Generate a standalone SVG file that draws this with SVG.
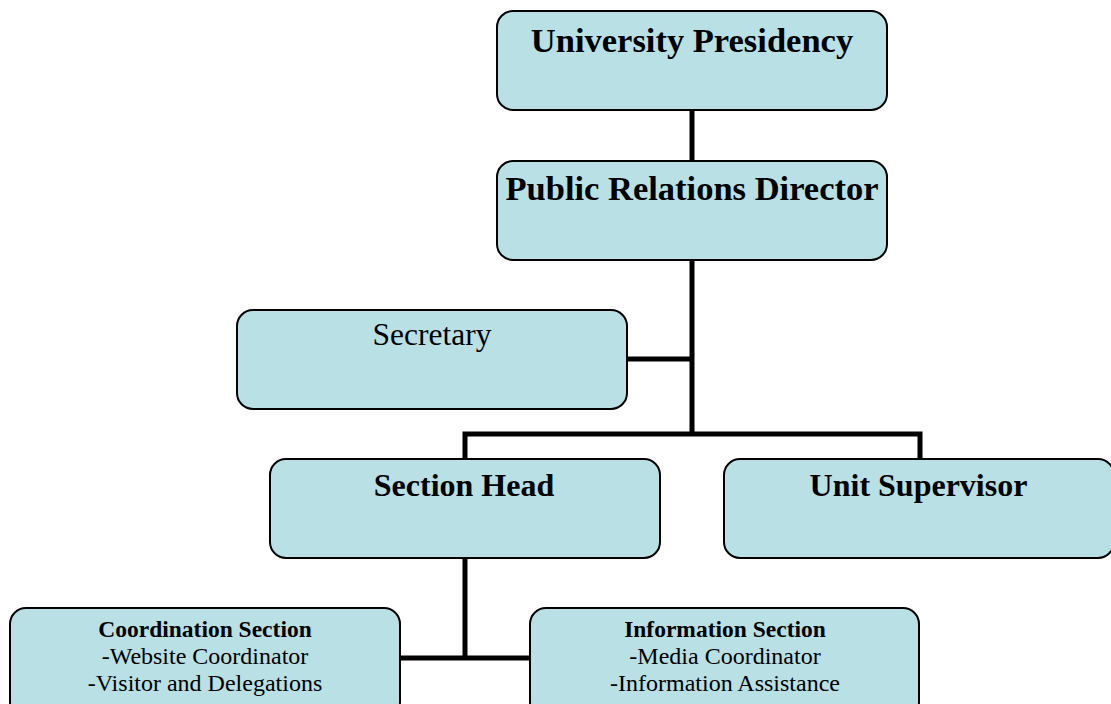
<svg xmlns="http://www.w3.org/2000/svg" width="1111" height="704" viewBox="0 0 1111 704">
<style>
.box{fill:#b9e0e4;stroke:#000;stroke-width:2}
.t{font-family:"Liberation Serif","Times New Roman",serif;fill:#000;text-anchor:middle}
.b{font-weight:bold}
.conn{stroke:#000;stroke-width:5;fill:none}
</style>
<rect width="1111" height="704" fill="#fff"/>
<g id="connectors">
<line class="conn" x1="692" y1="110" x2="692" y2="160"/>
<line class="conn" x1="692" y1="260" x2="692" y2="436"/>
<line class="conn" x1="627" y1="359" x2="692" y2="359"/>
<polyline class="conn" points="465,459 465,434 920,434 920,459"/>
<line class="conn" x1="465" y1="558" x2="465" y2="658"/>
<line class="conn" x1="400" y1="658" x2="530" y2="658"/>
</g>
<g id="n-presidency">
<rect class="box" x="497" y="11" width="390" height="99" rx="16"/>
<text class="t b" x="692" y="52" font-size="34.5">University Presidency</text>
</g>
<g id="n-director">
<rect class="box" x="497" y="161" width="390" height="99" rx="16"/>
<text class="t b" x="692" y="200" font-size="34.5">Public Relations Director</text>
</g>
<g id="n-secretary">
<rect class="box" x="237" y="310" width="390" height="99" rx="16"/>
<text class="t" x="432" y="345" font-size="31.5">Secretary</text>
</g>
<g id="n-section-head">
<rect class="box" x="270" y="459" width="390" height="99" rx="16"/>
<text class="t b" x="464" y="496" font-size="32">Section Head</text>
</g>
<g id="n-unit-supervisor">
<rect class="box" x="724" y="459" width="390" height="99" rx="16"/>
<text class="t b" x="918.5" y="496" font-size="32">Unit Supervisor</text>
</g>
<g id="n-coordination">
<rect class="box" x="10" y="608" width="390" height="110" rx="16"/>
<text class="t" x="205" y="637" font-size="24"><tspan class="b" font-size="23.5">Coordination Section</tspan><tspan x="205" dy="27">-Website Coordinator</tspan><tspan x="205" dy="27">-Visitor and Delegations</tspan></text>
</g>
<g id="n-information">
<rect class="box" x="530" y="608" width="389" height="110" rx="16"/>
<text class="t" x="725" y="637" font-size="24"><tspan class="b" font-size="23.5">Information Section</tspan><tspan x="725" dy="27">-Media Coordinator</tspan><tspan x="725" dy="27">-Information Assistance</tspan></text>
</g>
</svg>
